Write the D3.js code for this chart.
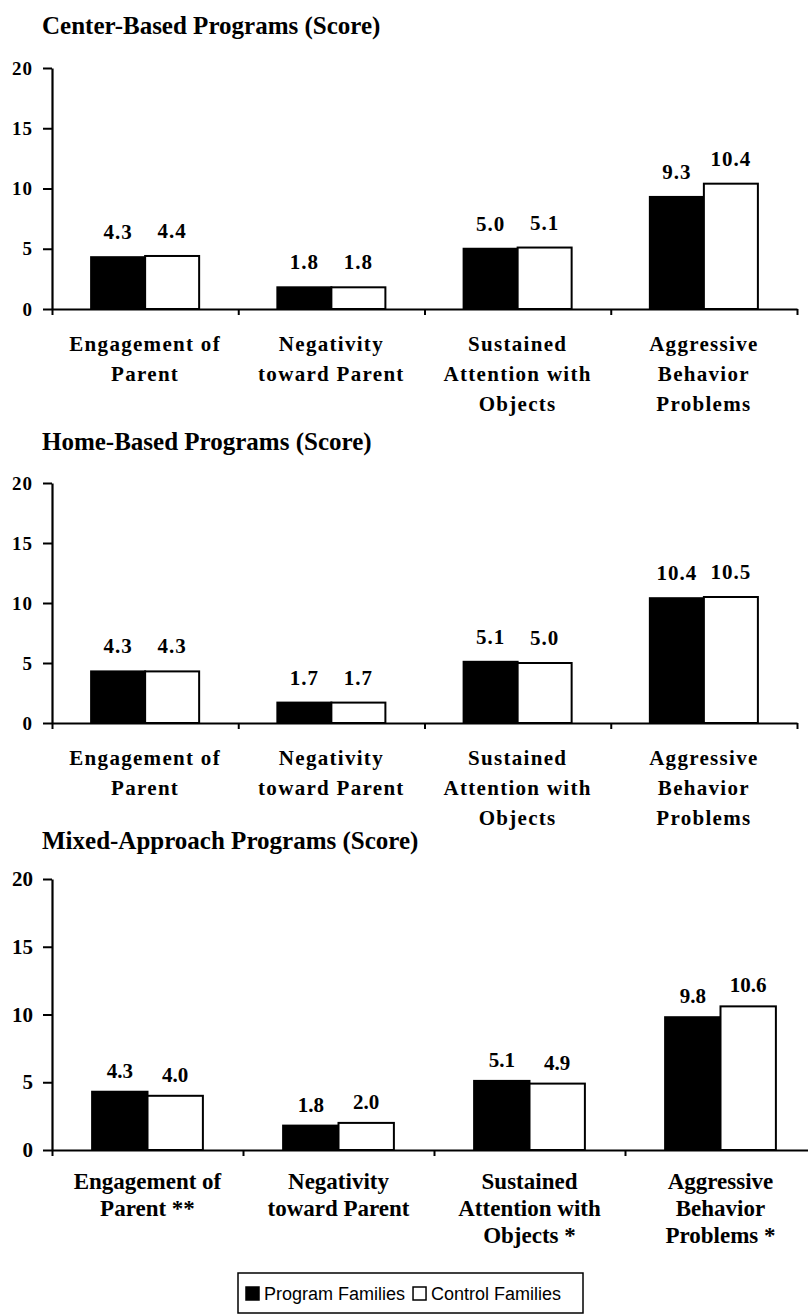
<!DOCTYPE html>
<html>
<head>
<meta charset="utf-8">
<script src="https://cdn.jsdelivr.net/npm/d3@7"></script>
<style>
  html, body { margin: 0; padding: 0; background: #fff; }
  svg { display: block; }
</style>
</head>
<body>
<svg id="chart" width="808" height="1315"></svg>
<script>
// ---------------- data ----------------
const panelTitles = ["Center-Based Programs (Score)", "Home-Based Programs (Score)", "Mixed-Approach Programs (Score)"];
const seriesNames = ["Program Families", "Control Families"];
const yTickValues = [0, 5, 10, 15, 20];

const categoriesPlain = [
  ["Engagement of", "Parent"],
  ["Negativity", "toward Parent"],
  ["Sustained", "Attention with", "Objects"],
  ["Aggressive", "Behavior", "Problems"]
];
const categoriesMixed = [
  ["Engagement of", "Parent **"],
  ["Negativity", "toward Parent"],
  ["Sustained", "Attention with", "Objects *"],
  ["Aggressive", "Behavior", "Problems *"]
];

const centerProgram = [4.3, 1.8, 5.0, 9.3];
const centerControl = [4.4, 1.8, 5.1, 10.4];
const homeProgram   = [4.3, 1.7, 5.1, 10.4];
const homeControl   = [4.3, 1.7, 5.0, 10.5];
const mixedProgram  = [4.3, 1.8, 5.1, 9.8];
const mixedControl  = [4.0, 2.0, 4.9, 10.6];

// ---------------- layout / style ----------------
const layout = [
  { titleY: 25, yTop: 68, yBot: 309, xStart: 52, xEnd: 797, labelGap: 35, lineH: 30, valGap: 18,
    tickFont: 19, tickSpacing: 1, catFont: 21, catSpacing: 1.3, valFont: 21, valSpacing: 1 },
  { titleY: 441, yTop: 483, yBot: 723, xStart: 52, xEnd: 797, labelGap: 35, lineH: 30, valGap: 18,
    tickFont: 19, tickSpacing: 1, catFont: 21, catSpacing: 1.3, valFont: 21, valSpacing: 1 },
  { titleY: 840, yTop: 879, yBot: 1150, xStart: 52, xEnd: 816, labelGap: 31, lineH: 27, valGap: 14,
    tickFont: 21, tickSpacing: 0, catFont: 23, catSpacing: 0, valFont: 21, valSpacing: 0 }
];

const panels = [
  { title: panelTitles[0], cats: categoriesPlain, program: centerProgram, control: centerControl },
  { title: panelTitles[1], cats: categoriesPlain, program: homeProgram,   control: homeControl },
  { title: panelTitles[2], cats: categoriesMixed, program: mixedProgram,  control: mixedControl }
];

const serif = "'Liberation Serif', 'Times New Roman', Times, serif";
const fill = { "Program Families": "#000", "Control Families": "#fff" };
const fmt = d3.format(".1f");

const svg = d3.select("#chart");

panels.forEach((p, i) => {
  const L = layout[i];
  const g = svg.append("g");

  // Title
  g.append("text")
    .attr("x", 42).attr("y", L.titleY).attr("dy", "0.35em")
    .attr("font-family", serif).attr("font-weight", "bold").attr("font-size", 25)
    .text(p.title);

  const idx = d3.range(p.cats.length);
  const x = d3.scaleBand().domain(idx).range([L.xStart, L.xEnd]).paddingInner(0).paddingOuter(0);
  const bw = x.bandwidth();
  const xs = d3.scaleBand().domain(seriesNames).range([bw * 0.21, bw * 0.79]).padding(0);
  const y = d3.scaleLinear().domain([0, 20]).range([L.yBot, L.yTop]);

  const rows = idx.map(k => ({ k, values: [
    { s: seriesNames[0], v: p.program[k] },
    { s: seriesNames[1], v: p.control[k] }
  ]}));

  // Bars
  const grp = g.selectAll("g.cat").data(rows).join("g").attr("class", "cat")
    .attr("transform", d => `translate(${x(d.k)},0)`);
  grp.selectAll("rect").data(d => d.values).join("rect")
    .attr("x", d => xs(d.s)).attr("width", xs.bandwidth())
    .attr("y", d => y(d.v)).attr("height", d => y(0) - y(d.v))
    .attr("fill", d => fill[d.s]).attr("stroke", "#000").attr("stroke-width", 2);

  // Value labels
  grp.selectAll("text.val").data(d => d.values).join("text").attr("class", "val")
    .attr("x", d => xs(d.s) + xs.bandwidth() / 2)
    .attr("y", d => y(d.v) - L.valGap)
    .attr("text-anchor", "middle")
    .attr("font-family", serif).attr("font-weight", "bold").attr("font-size", L.valFont)
    .style("letter-spacing", L.valSpacing + "px")
    .text(d => fmt(d.v));

  // X axis (category boundary ticks)
  const xb = d3.scaleLinear().domain([0, p.cats.length]).range([L.xStart, L.xEnd]);
  const xAxis = g.append("g").attr("transform", `translate(0,${L.yBot})`)
    .call(d3.axisBottom(xb).tickValues(d3.range(p.cats.length + 1)).tickFormat("").tickSizeInner(6).tickSizeOuter(0));
  xAxis.select(".domain").attr("stroke-width", 2.2);
  xAxis.selectAll(".tick line").attr("stroke-width", 2);

  // Y axis
  const yAxis = g.append("g").attr("transform", `translate(${L.xStart},0)`)
    .call(d3.axisLeft(y).tickValues(yTickValues).tickSizeInner(9).tickSizeOuter(0).tickPadding(10));
  yAxis.select(".domain").attr("stroke-width", 2.2);
  yAxis.selectAll(".tick line").attr("stroke-width", 2);
  yAxis.selectAll(".tick text")
    .attr("font-family", serif).attr("font-weight", "bold").attr("font-size", L.tickFont)
    .style("letter-spacing", L.tickSpacing + "px").attr("fill", "#000");

  // Category labels
  const cl = g.selectAll("text.cat").data(idx).join("text").attr("class", "cat")
    .attr("x", d => x(d) + bw / 2)
    .attr("y", L.yBot + L.labelGap)
    .attr("text-anchor", "middle")
    .attr("font-family", serif).attr("font-weight", "bold").attr("font-size", L.catFont)
    .style("letter-spacing", L.catSpacing + "px");
  cl.selectAll("tspan").data(d => p.cats[d]).join("tspan")
    .attr("x", function() { return d3.select(this.parentNode).attr("x"); })
    .attr("dy", (d, j) => j === 0 ? "0.35em" : L.lineH)
    .text(d => d);
});

// Legend
const lg = svg.append("g").attr("transform", "translate(238,1273)");
lg.append("rect").attr("x", 0).attr("y", 0).attr("width", 345).attr("height", 40)
  .attr("fill", "#fff").attr("stroke", "#000").attr("stroke-width", 1.5);
const sans = "'Liberation Sans', Arial, sans-serif";
let cx = 8;
seriesNames.forEach((s, i) => {
  lg.append("rect").attr("x", cx).attr("y", 14).attr("width", 13).attr("height", 13)
    .attr("fill", fill[s]).attr("stroke", "#000").attr("stroke-width", 1.5);
  const t = lg.append("text").attr("x", cx + 18).attr("y", 21).attr("dy", "0.35em")
    .attr("font-family", sans).attr("font-size", 18).text(s);
  cx += 18 + t.node().getComputedTextLength() + 8;
});
</script>
</body>
</html>
